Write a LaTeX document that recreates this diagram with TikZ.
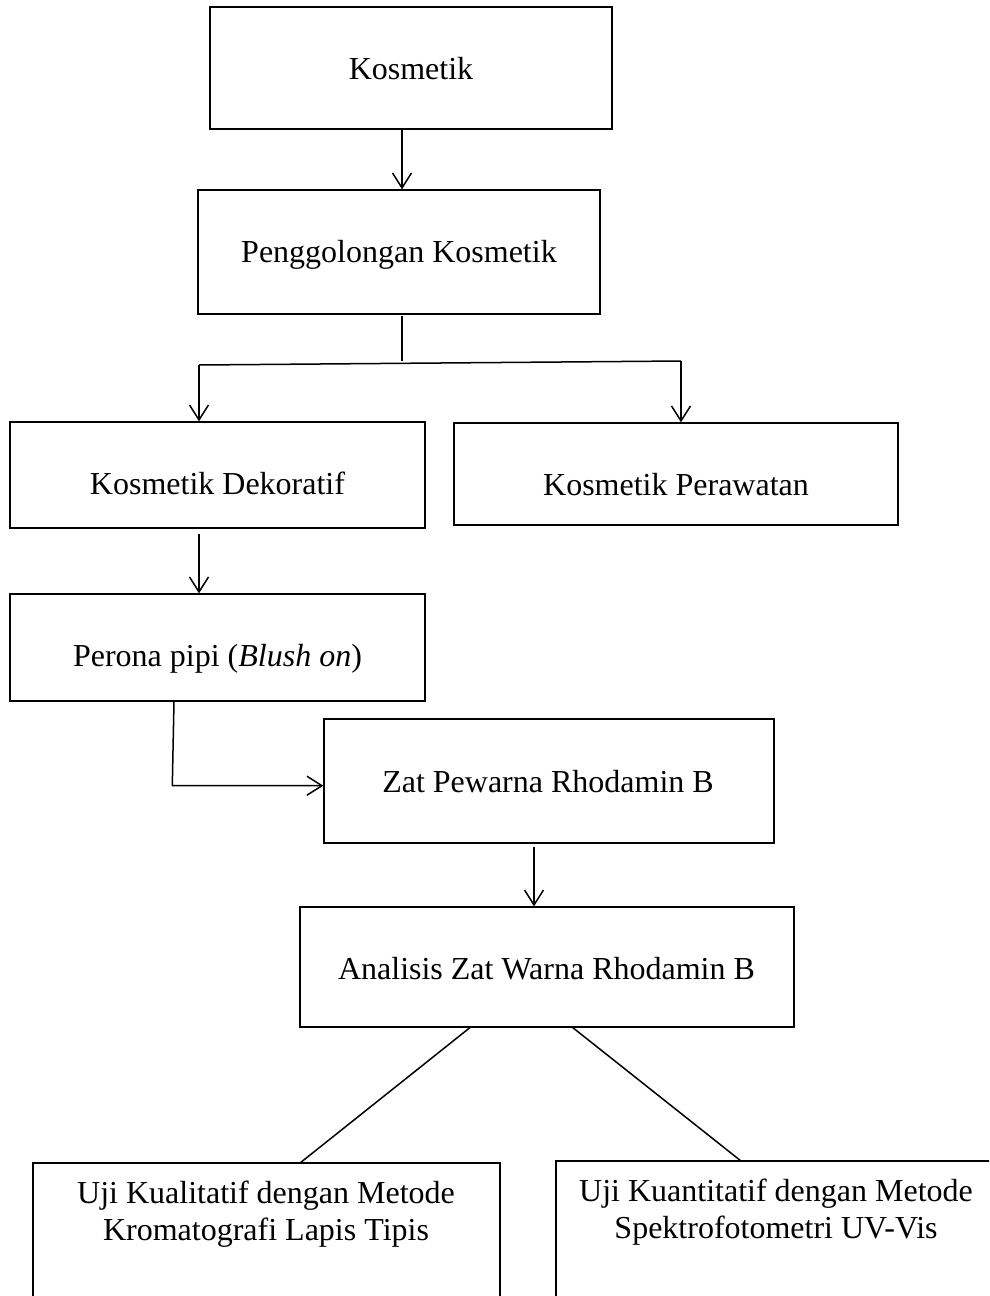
\documentclass[tikz,border=0pt]{standalone}
\usepackage{fontspec}
\setmainfont{Liberation Serif}
\usetikzlibrary{arrows.meta,calc}
\begin{document}
\begin{tikzpicture}[x=1pt,y=-1pt,
  box/.style={draw,line width=1.3pt,inner sep=0pt},
  lbl/.style={font=\fontsize{32}{37}\selectfont,align=center,inner sep=0pt,anchor=base},
  conn/.style={line width=1.5pt},
  arr/.style={conn,-{Straight Barb[length=15pt,width=19pt,line width=1.5pt]}}]
\clip (0,0) rectangle (989,1296);
\fill[white] (0,0) rectangle (989,1296);
% boxes
\node[box,minimum width=402pt,minimum height=122pt] (kos) at (411,68) {};
\node[lbl] (koslbl) at (411,79) {Kosmetik};
\node[box,minimum width=402pt,minimum height=124pt] (peng) at (399,252) {};
\node[lbl] (penglbl) at (399,262) {Penggolongan Kosmetik};
\node[box,minimum width=415pt,minimum height=106pt] (dek) at (217.5,475) {};
\node[lbl] (deklbl) at (217.5,494) {Kosmetik Dekoratif};
\node[box,minimum width=444pt,minimum height=102pt] (per) at (676,474) {};
\node[lbl] (perlbl) at (676,495) {Kosmetik Perawatan};
\node[box,minimum width=415pt,minimum height=107pt] (pero) at (217.5,647.5) {};
\node[lbl] (perolbl) at (217.5,666) {Perona pipi (\textit{Blush on})};
\node[box,minimum width=450pt,minimum height=124pt] (zat) at (549,781) {};
\node[lbl] (zatlbl) at (548,792) {Zat Pewarna Rhodamin B};
\node[box,minimum width=494pt,minimum height=120pt] (ana) at (547,967) {};
\node[lbl] (analbl) at (546.5,979) {Analisis Zat Warna Rhodamin B};
\node[box,minimum width=467pt,minimum height=237pt] (kual) at (266.5,1281.5) {};
\node[lbl] (kuallbl) at (266,1240) {Uji Kualitatif dengan Metode\\Kromatografi Lapis Tipis};
\node[box,minimum width=440pt,minimum height=239pt] (kuan) at (776,1280.5) {};
\node[lbl] (kuanlbl) at (776,1238) {Uji Kuantitatif dengan Metode\\Spektrofotometri UV-Vis};
% connectors
\coordinate (ka) at ([xshift=-9pt]kos.south);
\draw[arr] (ka) -- (ka |- peng.north);
\coordinate (pb) at (402,316);
\coordinate (split) at (402,361);
\coordinate (sl) at (199,365);
\coordinate (sr) at (681,361);
\draw[conn] (pb) -- (split);
\draw[conn] (sl) -- (sr);
\draw[arr] (sl) -- (sl |- dek.north);
\draw[arr] (sr) -- (sr |- per.north);
\coordinate (db) at (199,534);
\draw[arr] (db) -- (db |- pero.north);
\coordinate (ps) at (174,701);
\coordinate (pc) at (172.3,785.7);
\draw[arr] (ps) -- (pc) -- (pc -| zat.west);
\coordinate (zb) at (534,847);
\draw[arr] (zb) -- (zb |- ana.north);
\coordinate (al) at (470.7,1027);
\coordinate (ar) at (572,1027);
\coordinate (kt) at (300,1163);
\coordinate (qt) at (741,1161);
\draw[conn] (al) -- (kt);
\draw[conn] (ar) -- (qt);
\end{tikzpicture}
\end{document}
